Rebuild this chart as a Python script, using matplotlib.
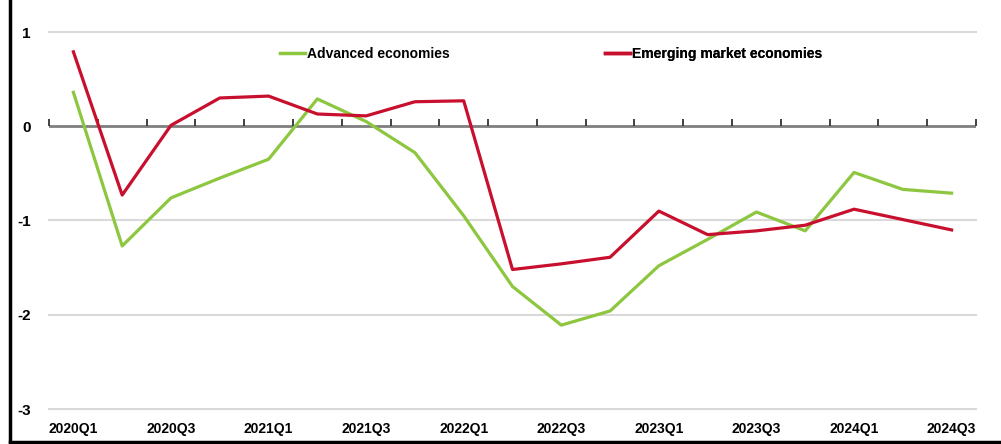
import matplotlib
matplotlib.use("Agg")
import matplotlib.pyplot as plt
from matplotlib.lines import Line2D
from matplotlib.markers import TICKUP

quarters = ["2020Q1", "2020Q2", "2020Q3", "2020Q4",
            "2021Q1", "2021Q2", "2021Q3", "2021Q4",
            "2022Q1", "2022Q2", "2022Q3", "2022Q4",
            "2023Q1", "2023Q2", "2023Q3", "2023Q4",
            "2024Q1", "2024Q2", "2024Q3"]
advanced = [0.36, -1.27, -0.76, -0.55, -0.35, 0.29, 0.05, -0.28, -0.95, -1.70,
            -2.11, -1.96, -1.48, -1.20, -0.91, -1.11, -0.49, -0.67, -0.71]
emerging = [0.79, -0.73, 0.01, 0.30, 0.32, 0.13, 0.11, 0.26, 0.27, -1.52,
            -1.46, -1.39, -0.90, -1.15, -1.11, -1.05, -0.88, -0.99, -1.10]
yticks = [1, 0, -1, -2, -3]
series_names = ["Advanced economies", "Emerging market economies"]

GREEN = "#8dc63f"
RED = "#c8102e"
FONT = ["Liberation Sans Narrow", "Liberation Sans", "DejaVu Sans"]
plt.rcParams["font.family"] = FONT
FS = 10

W, H = 1001, 444
fig = plt.figure(figsize=(W / 100, H / 100), dpi=100)
ax = fig.add_axes([49 / W, 1 - 409 / H, (976 - 49) / W, (409 - 32) / H])

x = list(range(len(quarters)))
for yv in yticks:
    if yv != 0:
        ax.axhline(yv, color="#d9d9d9", lw=1.5, zorder=1, clip_on=False)
ax.axhline(0, color="#7f7f7f", lw=2.0, zorder=2)
bounds = [i - 0.5 for i in range(len(quarters) + 1)]
ax.plot(bounds, [0] * len(bounds), linestyle="none", marker=TICKUP,
        markersize=5, markeredgewidth=1.3, color="#333333", zorder=2, clip_on=False)

ax.plot(x, advanced, color=GREEN, lw=2.3, zorder=3)
ax.plot(x, emerging, color=RED, lw=2.3, zorder=4)

ax.set_xlim(-0.5, len(quarters) - 0.5)
ax.set_ylim(-3, 1)
ax.set_yticks(yticks)
ax.set_yticklabels([str(v) for v in yticks], fontsize=FS + 1, fontweight="bold")
ax.set_xticks(x[::2])
ax.set_xticklabels(quarters[::2], fontsize=FS, fontweight="bold")
ax.tick_params(axis="both", length=0)
ax.tick_params(axis="x", pad=9)
ax.tick_params(axis="y", pad=13)
for s in ax.spines.values():
    s.set_visible(False)

colors = [GREEN, RED]
anchors_px = [280, 605]
for name, col, px in zip(series_names, colors, anchors_px):
    leg = ax.legend([Line2D([], [], color=col, lw=2.5)], [name],
                    loc="center left", bbox_to_anchor=(px / W, 1 - 54 / H),
                    bbox_transform=fig.transFigure, frameon=False,
                    handlelength=1.8, handletextpad=0.15, borderpad=0, borderaxespad=0,
                    prop={"family": FONT, "size": FS, "weight": "bold"})
    ax.add_artist(leg)

# figure frame (left and bottom)
fig.add_artist(Line2D([9.5 / W, 9.5 / W], [0, 1], color="black", lw=2.5, transform=fig.transFigure))
fig.add_artist(Line2D([9.5 / W, 1], [1 - 441.5 / H, 1 - 441.5 / H], color="black", lw=2.5,
                      transform=fig.transFigure))

fig.savefig("out.png", dpi=100)
